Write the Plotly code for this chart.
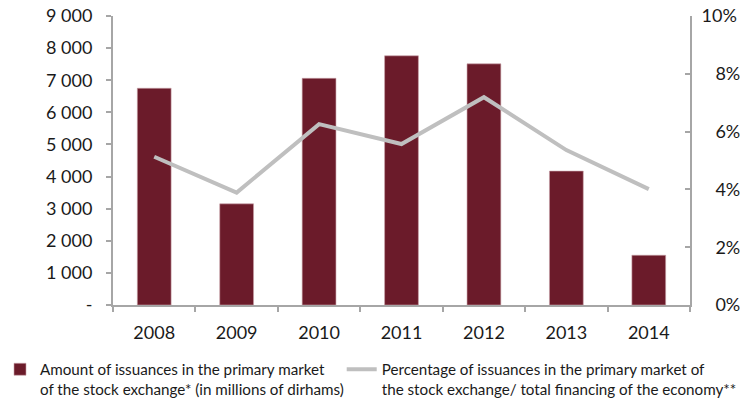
import plotly.graph_objects as go

years = ["2008", "2009", "2010", "2011", "2012", "2013", "2014"]
amounts = [6750, 3150, 7060, 7760, 7510, 4170, 1550]
percentages = [0.0513, 0.0389, 0.0626, 0.0557, 0.0719, 0.0536, 0.0401]

left_tickvals = [0, 1000, 2000, 3000, 4000, 5000, 6000, 7000, 8000, 9000]
left_ticktext = ["-", "1 000", "2 000", "3 000", "4 000", "5 000", "6 000", "7 000", "8 000", "9 000"]
right_tickvals = [0, 0.02, 0.04, 0.06, 0.08, 0.10]
right_ticktext = ["\u00a0\u00a0\u00a00%", "\u00a0\u00a0\u00a02%", "\u00a0\u00a0\u00a04%",
                  "\u00a0\u00a0\u00a06%", "\u00a0\u00a0\u00a08%", "10%"]

bar_name = "Amount of issuances in the primary market<br>of the stock exchange* (in millions of dirhams)"
line_name = "Percentage of issuances in the primary market of<br>the stock exchange/ total financing of the economy**"

BAR_COLOR = "#6B1B2A"
LINE_COLOR = "#BFBFBF"
AXIS_COLOR = "#A6A6A6"
TICK_FONT = dict(family="Lato", size=18, color="#1a1a1a")
LEG_FONT = dict(family="Lato", size=15.2, color="#1a1a1a")

fig = go.Figure()
fig.add_trace(go.Bar(
    x=years, y=amounts, name=bar_name, width=0.41,
    marker=dict(color=BAR_COLOR, line=dict(color="#c9a3aa", width=0.6)),
    yaxis="y", legend="legend",
))
fig.add_trace(go.Scatter(
    x=years, y=percentages, name=line_name, mode="lines",
    line=dict(color=LINE_COLOR, width=4),
    yaxis="y2", legend="legend2",
))

leg_common = dict(
    orientation="h", xref="container", yref="container",
    xanchor="left", yanchor="top", font=LEG_FONT, valign="top",
    bgcolor="rgba(0,0,0,0)",
)

fig.update_layout(
    width=756, height=401,
    margin=dict(l=113, r=66, t=16, b=96, autoexpand=False),
    paper_bgcolor="white", plot_bgcolor="white",
    showlegend=True,
    legend=dict(x=-0.006, y=0.12, **leg_common),
    legend2=dict(x=0.452, y=0.12, **leg_common),
    xaxis=dict(
        showline=True, linecolor=AXIS_COLOR, linewidth=2,
        ticks="outside", ticklen=5, tickcolor=AXIS_COLOR, tickwidth=1.5,
        tickson="boundaries", tickfont=TICK_FONT, showgrid=False,
        zeroline=False, ticklabelstandoff=10, automargin=False,
    ),
    yaxis=dict(
        range=[0, 9000], tickvals=left_tickvals, ticktext=left_ticktext,
        showline=True, linecolor=AXIS_COLOR, linewidth=2,
        ticks="outside", ticklen=5, tickcolor=AXIS_COLOR, tickwidth=1.5,
        tickfont=TICK_FONT, showgrid=False, zeroline=False,
        ticklabelstandoff=10, automargin=False,
    ),
    yaxis2=dict(
        range=[0, 0.10], tickvals=right_tickvals, ticktext=right_ticktext,
        overlaying="y", side="right",
        showline=True, linecolor=AXIS_COLOR, linewidth=2,
        ticks="inside", ticklen=5, tickcolor=AXIS_COLOR, tickwidth=1.5,
        tickfont=TICK_FONT, showgrid=False, zeroline=False,
        ticklabelstandoff=6, automargin=False,
    ),
)

fig.write_html("out.html", config={"displayModeBar": False},
               post_script="document.body.style.margin='0';")
